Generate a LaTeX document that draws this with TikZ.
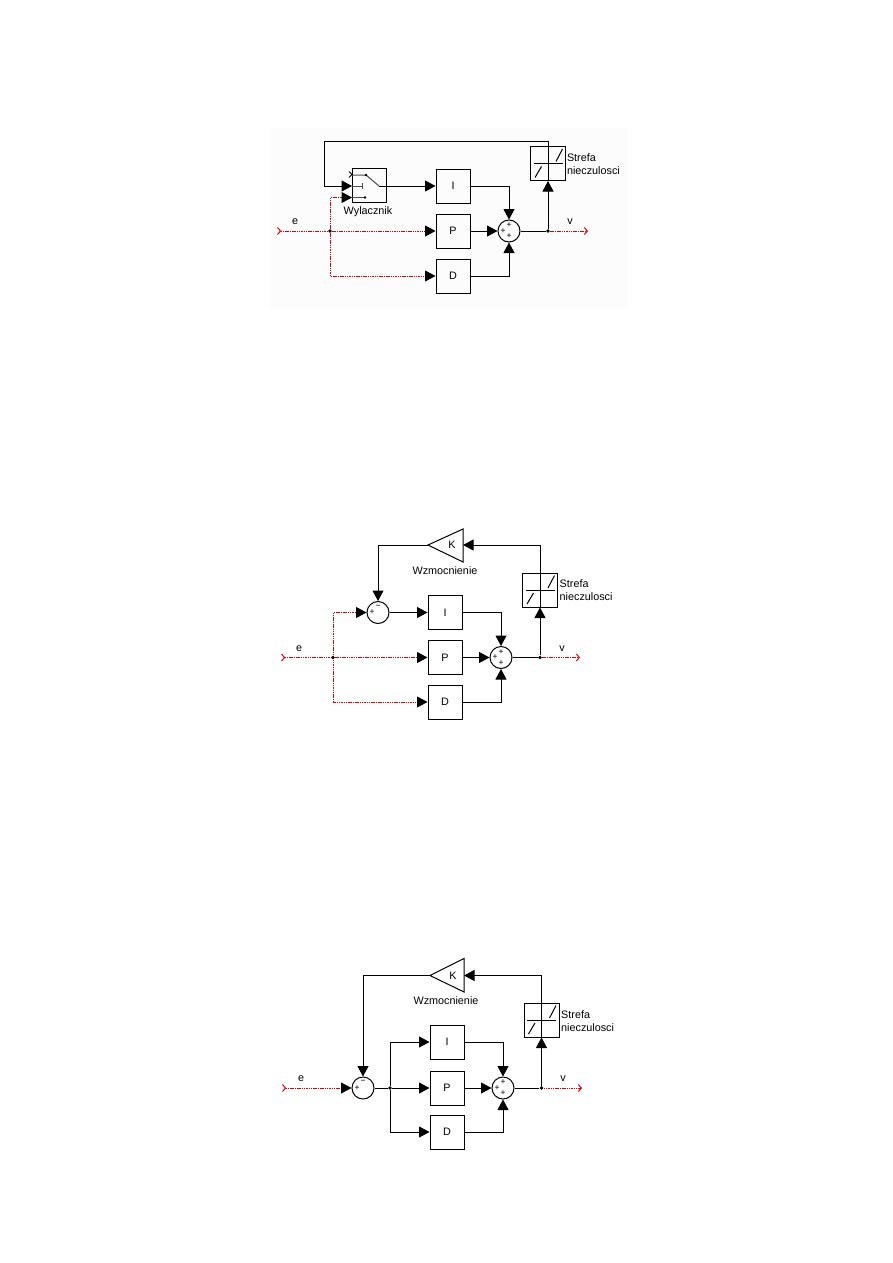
\documentclass[tikz,border=0pt]{standalone}
\usepackage{fontspec}
\setmainfont{Liberation Sans}
\usetikzlibrary{arrows.meta}
\pgfdeclarelayer{front}
\pgfsetlayers{main,front}
\tikzset{
  x=1pt,y=-1pt,
  wire/.style={draw=black,line width=1pt},
  arrowed/.style={wire,-{Triangle[length=10.5pt,width=11pt]}},
  signal/.style={draw=red!85!black,line width=1pt,dash pattern=on 1.5pt off 0.8pt},
  signalin/.style={signal,-{Triangle[length=10.5pt,width=11pt,black]}},
  inport/.style={{Straight Barb[reversed,length=3pt,width=7pt,line width=1pt]}-},
  outport/.style={-{Straight Barb[length=3pt,width=7pt,line width=1pt]}},
  block/.style={draw=black,line width=1pt,minimum width=34pt,minimum height=34pt,inner sep=0pt,font=\fontsize{10.8}{12}\selectfont},
  sumcircle/.style={circle,draw=black,line width=1pt,minimum size=22pt,inner sep=0pt},
  dotjoin/.style={circle,fill=black,minimum size=3.8pt,inner sep=0pt},
  caption/.style={font=\fontsize{10.8}{13}\selectfont,inner sep=0pt},
  sign/.style={font=\fontsize{8.5}{8.5}\selectfont,inner sep=0pt},
  thinpart/.style={draw=black!70,line width=1pt},
  deadzone/.pic={
    \node[block,minimum width=35pt] (-b) at (0,0) {};
    \draw[wire] (-14.5,0) -- (14.5,0);
    \draw[wire] (-13,14) -- (-6.5,3);
    \draw[wire] (8,-2) -- (14.5,-14.5);
  }
}
\begin{document}
\begin{tikzpicture}
\useasboundingbox (0,0) rectangle (893,1263);
\fill[white] (0,0) rectangle (893,1263);

% --- controller with an integrator switch ---
\fill[black!1.2] (270,128) rectangle (628,308);
\node[block] (swa) at (369,185.5) {};
\node[block] (ia) at (453,186) {I};
\node[block] (pa) at (453,231) {P};
\node[block] (da) at (453,276) {D};
\node[sumcircle] (sa) at (509,231) {};
\node[sign] at (509,225.5) {+};
\node[sign] at (503,231) {+};
\node[sign] at (509,236.5) {+};
\pic (dza) at (548,163.5) {deadzone};
\begin{pgfonlayer}{front}
\node[dotjoin] (ja) at (330,231) {};
\node[dotjoin] (oa) at (548,231) {};
\end{pgfonlayer}
\coordinate (ina) at (277,231);
\coordinate (outa) at (588,231);
\coordinate (swin) at (352,186);
\coordinate (swreset) at (352,197.5);
\coordinate (swout) at (379,186);
\coordinate (swpivot) at (366,175);
\coordinate (swtop) at (352,175);
\coordinate (swtick) at (362,186);
\coordinate (swlow) at (365,197.5);
\coordinate (fba) at (548,141);
\coordinate (fbb) at (324,141);
\coordinate (fbc) at (324,186);

\draw[signal,inport] (ina) -- (ja);
\draw[signalin] (ja) -- (pa.west);
\draw[signalin] (ja) |- (da.west);
\draw[signalin] (ja) |- (swreset);
\draw[signal,outport] (oa) -- (outa);
\draw[wire] (dza-b.south) -- (fba) -- (fbb) -- (fbc);
\draw[arrowed] (fbc) -- (swin);
\draw[thinpart] (swin) -- (swtick);
\draw[thinpart] (362,183) -- (362,189);
\draw[thinpart] (swreset) -- (swlow);
\fill (swlow) circle (1.4);
\draw[thinpart] (swtop) -- (swpivot) -- (swout);
\fill (swpivot) circle (1.4);
\draw[draw=black,line width=0.9pt] (349,171.5) -- (352,174.5) -- (349,177.5);
\draw[arrowed] (swout) -- (ia.west);
\draw[arrowed] (ia.east) -| (sa.north);
\draw[arrowed] (pa.east) -- (sa.west);
\draw[arrowed] (da.east) -| (sa.south);
\draw[wire] (sa.east) -- (oa);
\draw[arrowed] (oa) -- (dza-b.south);
\node[caption] (lea) at (295,222) {e};
\node[caption] (lva) at (570,222) {v};
\node[caption] (lwa) at (368,212) {Wylacznik};
\node[caption,align=left,anchor=west] (lsa) at (566.8,164.5) {Strefa\\nieczulosci};

% --- controller with gain feedback into the integrator ---
\node[block] (ib) at (445,612.5) {I};
\node[block] (pb) at (445,657.5) {P};
\node[block] (db) at (445,702) {D};
\node[sumcircle] (sb) at (378,612.5) {};
\node[sign] at (372,612) {+};
\node[sign] at (378,607) {−};
\node[sumcircle] (tb) at (501,657.5) {};
\node[sign] at (501,652) {+};
\node[sign] at (495,657.5) {+};
\node[sign] at (501,663) {+};
\pic (dzb) at (540,590) {deadzone};
\begin{pgfonlayer}{front}
\node[dotjoin] (jb) at (333,657.5) {};
\node[dotjoin] (ob) at (540,657.5) {};
\end{pgfonlayer}
\coordinate (inb) at (281,657.5);
\coordinate (outb) at (580,657.5);
\coordinate (kbt) at (428,545);
\coordinate (kbu) at (463,529);
\coordinate (kbl) at (463,562);
\coordinate (kbi) at (463,545);
\coordinate (fbd) at (540,545);
\coordinate (fbe) at (378,545);
\draw[wire] (kbt) -- (kbu) -- (kbl) -- cycle;
\node[caption] (kb) at (452,545) {K};

\draw[signal,inport] (inb) -- (jb);
\draw[signalin] (jb) -- (pb.west);
\draw[signalin] (jb) |- (db.west);
\draw[signalin] (jb) |- (sb.west);
\draw[signal,outport] (ob) -- (outb);
\draw[wire] (dzb-b.south) -- (fbd);
\draw[arrowed] (fbd) -- (kbi);
\draw[wire] (kbt) -- (fbe);
\draw[arrowed] (fbe) -- (sb.north);
\draw[arrowed] (sb.east) -- (ib.west);
\draw[arrowed] (ib.east) -| (tb.north);
\draw[arrowed] (pb.east) -- (tb.west);
\draw[arrowed] (db.east) -| (tb.south);
\draw[wire] (tb.east) -- (ob);
\draw[arrowed] (ob) -- (dzb-b.south);
\node[caption] (leb) at (299,649) {e};
\node[caption] (lvb) at (562,649) {v};
\node[caption] (lwb) at (445,571) {Wzmocnienie};
\node[caption,align=left,anchor=west] (lsb) at (559.5,590.5) {Strefa\\nieczulosci};

% --- controller with gain feedback at the input ---
\node[block] (ic) at (447,1042) {I};
\node[block] (pc) at (447,1088) {P};
\node[block] (dc) at (447,1132) {D};
\node[sumcircle] (sc) at (363,1088) {};
\node[sign] at (357,1088) {+};
\node[sign] at (363,1082) {−};
\node[sumcircle] (tc) at (503,1088) {};
\node[sign] at (503,1082.5) {+};
\node[sign] at (497,1088) {+};
\node[sign] at (503,1093.5) {+};
\pic (dzc) at (541.5,1020) {deadzone};
\begin{pgfonlayer}{front}
\node[dotjoin] (jc) at (390,1088) {};
\node[dotjoin] (oc) at (541.5,1088) {};
\end{pgfonlayer}
\coordinate (inc) at (282,1088);
\coordinate (outc) at (582,1088);
\coordinate (kct) at (430,975.5);
\coordinate (kcu) at (464,958.5);
\coordinate (kcl) at (464,992);
\coordinate (kci) at (464,975.5);
\coordinate (fbf) at (541.5,975.5);
\coordinate (fbg) at (363,975.5);
\draw[wire] (kct) -- (kcu) -- (kcl) -- cycle;
\node[caption] (kc) at (453,975.5) {K};

\draw[signal,{Straight Barb[reversed,length=3pt,width=7pt,line width=1pt]}-{Triangle[length=10.5pt,width=11pt,black]}] (inc) -- (sc.west);
\draw[signal,outport] (oc) -- (outc);
\draw[wire] (dzc-b.south) -- (fbf);
\draw[arrowed] (fbf) -- (kci);
\draw[wire] (kct) -- (fbg);
\draw[arrowed] (fbg) -- (sc.north);
\draw[wire] (sc.east) -- (jc);
\draw[arrowed] (jc) -- (pc.west);
\draw[arrowed] (jc) |- (ic.west);
\draw[arrowed] (jc) |- (dc.west);
\draw[arrowed] (ic.east) -| (tc.north);
\draw[arrowed] (pc.east) -- (tc.west);
\draw[arrowed] (dc.east) -| (tc.south);
\draw[wire] (tc.east) -- (oc);
\draw[arrowed] (oc) -- (dzc-b.south);
\node[caption] (lec) at (301,1079) {e};
\node[caption] (lvc) at (563,1079) {v};
\node[caption] (lwc) at (446,1001) {Wzmocnienie};
\node[caption,align=left,anchor=west] (lsc) at (561,1021) {Strefa\\nieczulosci};
\end{tikzpicture}
\end{document}
